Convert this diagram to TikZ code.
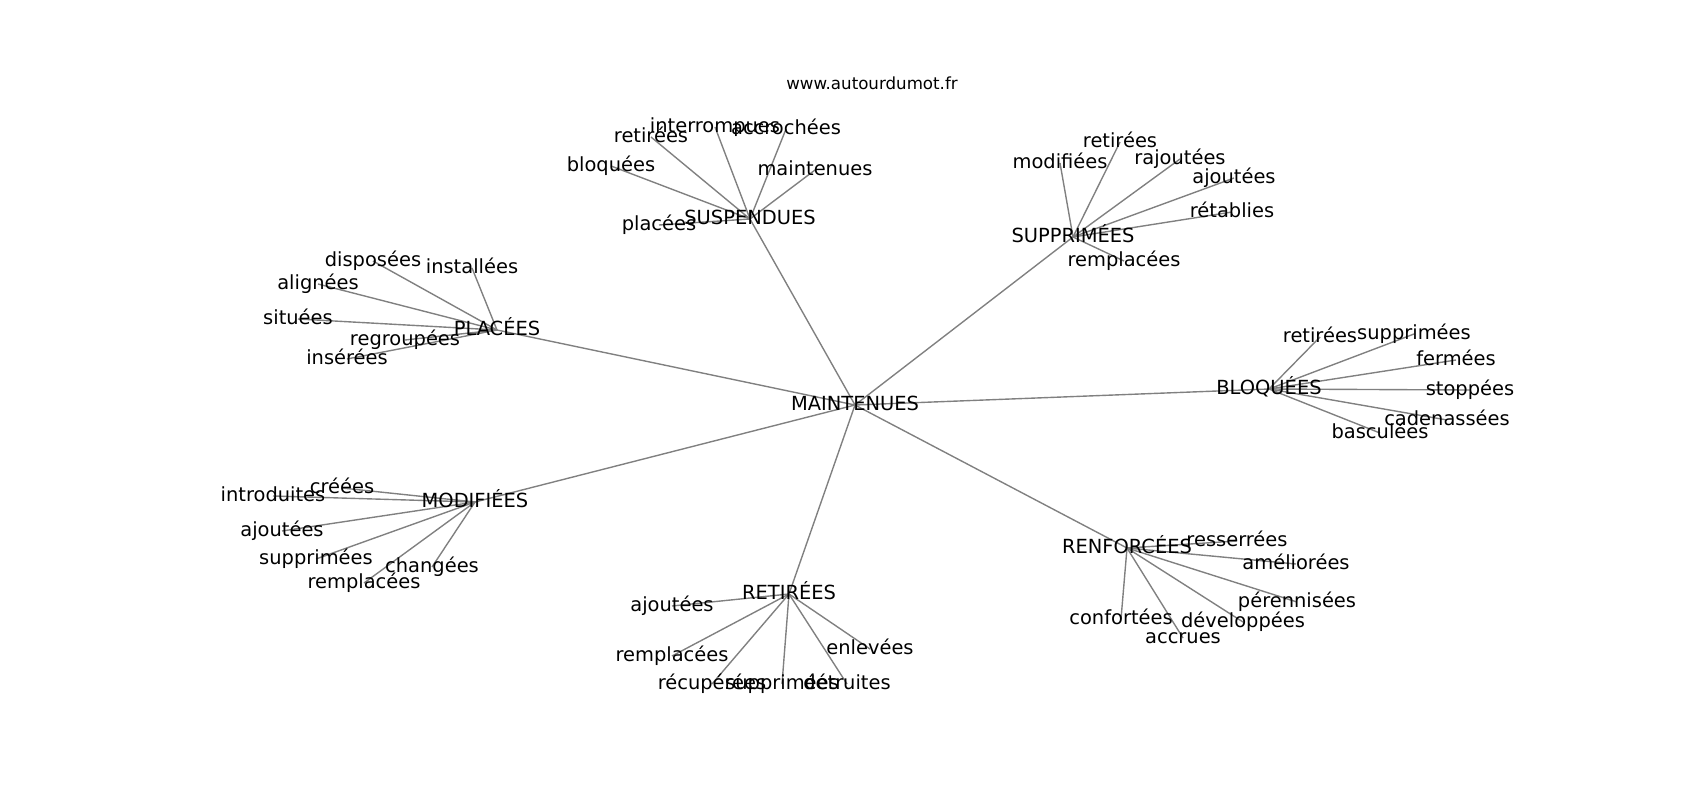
\documentclass[tikz,border=0pt]{standalone}
\usepackage{fontspec}
\setmainfont{DejaVu Sans}
\usetikzlibrary{backgrounds}
\tikzset{
  mot/.style={font=\fontsize{14}{16}\selectfont, inner sep=0pt, text height=10.6pt, text depth=2.9pt},
  lien/.style={gray, line width=1pt}
}
\begin{document}
\begin{tikzpicture}[x=0.72pt,y=-0.72pt]
	\useasboundingbox (0,0) rectangle (1700,800);
	\node[font=\fontsize{12}{14}\selectfont, inner sep=0pt] (titre) at (872,83) {www.autourdumot.fr};
	% centre et mots principaux
	\node[mot] (M) at (855,405) {MAINTENUES};
	\node[mot] (SU) at (750,219) {SUSPENDUES};   \node[mot] (SP) at (1073,237) {SUPPRIMÉES};
	\node[mot] (PL) at (497,330) {PLACÉES};      \node[mot] (BL) at (1269,389) {BLOQUÉES};
	\node[mot] (MO) at (475,502) {MODIFIÉES};    \node[mot] (RE) at (789,594) {RETIRÉES};
	\node[mot] (RF) at (1127,548) {RENFORCÉES};
	% SUSPENDUES
	\node[mot] (SU1) at (715,127) {interrompues}; \node[mot] (SU2) at (786,129) {accrochées};
	\node[mot] (SU3) at (651,137) {retirées};     \node[mot] (SU4) at (611,166) {bloquées};
	\node[mot] (SU5) at (815,170) {maintenues};   \node[mot] (SU6) at (659,225) {placées};
	% SUPPRIMEES
	\node[mot] (SP1) at (1120,142) {retirées};    \node[mot] (SP2) at (1060,163) {modifiées};
	\node[mot] (SP3) at (1180,159) {rajoutées};   \node[mot] (SP4) at (1234,178) {ajoutées};
	\node[mot] (SP5) at (1232,212) {rétablies};   \node[mot] (SP6) at (1124,261) {remplacées};
	% PLACEES
	\node[mot] (PL1) at (373,261) {disposées};    \node[mot] (PL2) at (472,268) {installées};
	\node[mot] (PL3) at (318,284) {alignées};     \node[mot] (PL4) at (298,319) {situées};
	\node[mot] (PL5) at (405,340) {regroupées};   \node[mot] (PL6) at (347,359) {insérées};
	% BLOQUEES
	\node[mot] (BL1) at (1320,337) {retirées};    \node[mot] (BL2) at (1414,334) {supprimées};
	\node[mot] (BL3) at (1456,360) {fermées};     \node[mot] (BL4) at (1470,390) {stoppées};
	\node[mot] (BL5) at (1447,420) {cadenassées}; \node[mot] (BL6) at (1380,433) {basculées};
	% MODIFIEES
	\node[mot] (MO1) at (342,488) {créées};       \node[mot] (MO2) at (273,496) {introduites};
	\node[mot] (MO3) at (282,531) {ajoutées};     \node[mot] (MO4) at (316,559) {supprimées};
	\node[mot] (MO5) at (432,567) {changées};     \node[mot] (MO6) at (364,583) {remplacées};
	% RETIREES
	\node[mot] (RE1) at (672,606) {ajoutées};     \node[mot] (RE2) at (672,656) {remplacées};
	\node[mot] (RE3) at (870,649) {enlevées};     \node[mot] (RE4) at (712,684) {récupérées};
	\node[mot] (RE5) at (782,684) {supprimées};   \node[mot] (RE6) at (847,684) {détruites};
	% RENFORCEES
	\node[mot] (RF1) at (1237,541) {resserrées};  \node[mot] (RF2) at (1296,564) {améliorées};
	\node[mot] (RF3) at (1297,602) {pérennisées}; \node[mot] (RF4) at (1121,619) {confortées};
	\node[mot] (RF5) at (1243,622) {développées}; \node[mot] (RF6) at (1183,638) {accrues};
	\begin{scope}[on background layer]
		\foreach \h in {SU,SP,PL,BL,MO,RE,RF} {
			\draw[lien] (M.center)--(\h.center);
			\foreach \i in {1,...,6} \draw[lien] (\h.center)--(\h\i.center);
		}
	\end{scope}
\end{tikzpicture}
\end{document}
